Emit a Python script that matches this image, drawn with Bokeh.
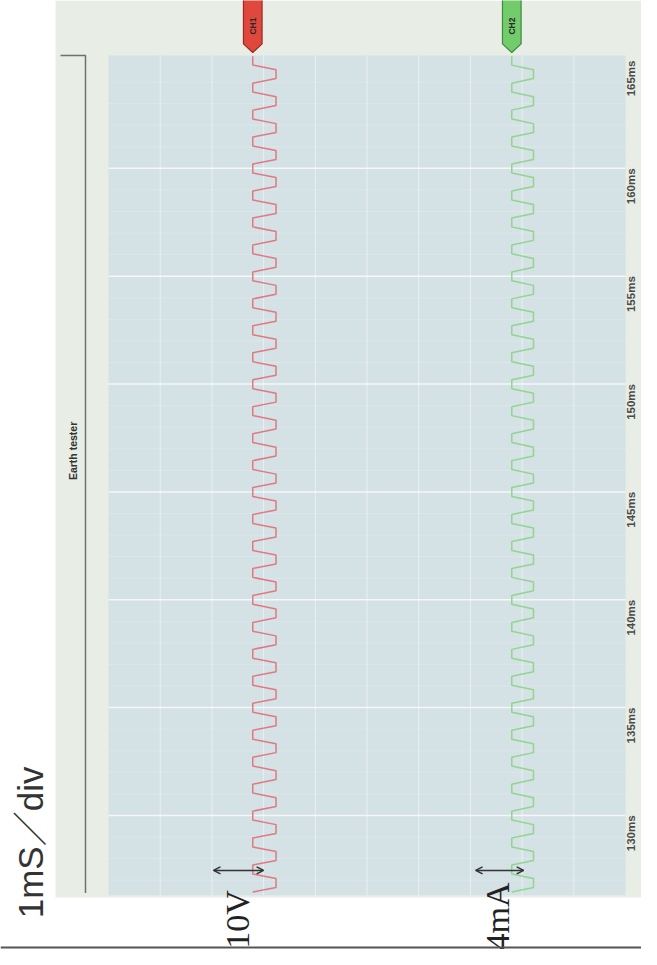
import numpy as np
from bokeh.plotting import figure
from bokeh.models import Range1d, BoxAnnotation, Span, Arrow, OpenHead
from bokeh.embed import file_html
from bokeh.resources import INLINE
from bokeh.core.properties import value

# ---------------- data ----------------
time_ticks = [130, 135, 140, 145, 150, 155, 160, 165]
time_labels = ["130ms", "135ms", "140ms", "145ms", "150ms", "155ms", "160ms", "165ms"]
minor_ticks = [127, 128, 129, 131, 132, 133, 134, 136, 137, 138, 139, 141, 142, 143, 144,
               146, 147, 148, 149, 151, 152, 153, 154, 156, 157, 158, 159, 161, 162, 163, 164]
major_lines = [130, 135, 140, 145, 150, 155, 160]
div_lines = [1, 2, 3, 4, 5, 6, 7, 8, 9]

channels = ["CH1", "CH2"]
ch_low = [2.79, 7.80]          # trace low level (divisions)
ch_pp = [0.45, 0.42]           # trace peak-to-peak (divisions)
ch_colors = ["#e2727c", "#8ed48a"]
marker_fill = ["#e0483e", "#72cc6c"]
marker_line = ["#9a2a24", "#3f8a3c"]

period_ms = 1.25               # one cycle of the test signal (~800 Hz)
trace_start = 126.45
trace_end = 165.37
cycle_phase = [0.0, 0.17, 0.5, 0.67]
cycle_level = [0.0, 1.0, 1.0, 0.0]

scale_labels = ["10V", "4mA"]

# ---------------- layout constants ----------------
X0, X1 = -2.089, 10.309
Y0, Y1 = 123.785, 167.783
plot_bottom, plot_top = 126.3, 165.23
panel_left, panel_bottom = -1.025, 126.2

p = figure(width=641, height=949, x_range=Range1d(X0, X1), y_range=Range1d(Y0, Y1),
           output_backend="svg", toolbar_location=None, min_border=0)
p.xaxis.visible = False
p.yaxis.visible = False
p.xgrid.visible = False
p.ygrid.visible = False
p.outline_line_color = None
p.background_fill_color = "white"
p.border_fill_color = "white"

# panels
p.add_layout(BoxAnnotation(left=panel_left, bottom=panel_bottom, fill_color="#e8ede5",
                           fill_alpha=1, line_color=None, level="underlay"))
p.add_layout(BoxAnnotation(left=0, right=10, bottom=plot_bottom, top=plot_top,
                           fill_color="#d4e1e5", fill_alpha=1, line_color=None, level="underlay"))

# grid
p.segment(x0=div_lines, y0=[plot_bottom] * len(div_lines), x1=div_lines,
          y1=[plot_top] * len(div_lines), line_color="white", line_alpha=0.5, line_width=1)
p.segment(x0=[0] * len(minor_ticks), y0=minor_ticks, x1=[10] * len(minor_ticks),
          y1=minor_ticks, line_color="white", line_alpha=0.2, line_width=1)
p.segment(x0=[0] * len(major_lines), y0=major_lines, x1=[10] * len(major_lines),
          y1=major_lines, line_color="white", line_alpha=0.75, line_width=1.5)

# bracket at left
p.line(x=[-0.928, -0.445, -0.445], y=[plot_top, plot_top, 126.4],
       line_color="#707070", line_width=1.5)
p.text(x=[-0.696], y=[146.9], text=["Earth tester"], angle=np.pi / 2,
       text_align="center", text_baseline="middle", text_font=value("Liberation Sans"),
       text_font_style="bold", text_font_size="10.5px", text_color="#333333")

# time tick labels
p.text(x=[10.1] * len(time_ticks), y=time_ticks, text=time_labels, angle=np.pi / 2,
       text_align="right", text_baseline="middle", text_font=value("Liberation Sans"),
       text_font_style="bold", text_font_size="11.5px", text_color="#4a4a4a")

# traces
for low, pp, col in zip(ch_low, ch_pp, ch_colors):
    ts, vs = [], []
    k = 0
    while True:
        base = trace_start + k * period_ms
        if base > trace_end:
            break
        for ph, lv in zip(cycle_phase, cycle_level):
            t = base + ph * period_ms
            if t <= trace_end:
                ts.append(t)
                vs.append(low + lv * pp)
        k += 1
    p.line(x=vs, y=ts, line_color=col, line_width=1.5, line_alpha=0.95)

# channel markers
tip = trace_end
half_w = 0.18
xs_m, ys_m = [], []
for c in ch_low:
    xs_m.append([c - half_w, c + half_w, c + half_w, c, c - half_w])
    ys_m.append([Y1 + 0.5, Y1 + 0.5, tip + 0.4, tip, tip + 0.4])
p.patches(xs=xs_m, ys=ys_m, fill_color=marker_fill, line_color=marker_line, line_width=1.2)
p.text(x=ch_low, y=[166.6] * 2, text=channels, angle=np.pi / 2, text_align="center",
       text_baseline="middle", text_font=value("Liberation Sans"), text_font_style="bold",
       text_font_size="8.5px", text_color="#2a2a2a")

# scale arrows
for xa, xb in [(2.03, 3.0), (7.10, 8.03)]:
    p.add_layout(Arrow(start=OpenHead(size=7, line_width=1.5, line_color="#333333"),
                       end=OpenHead(size=7, line_width=1.5, line_color="#333333"),
                       x_start=xa, x_end=xb, y_start=127.45, y_end=127.45,
                       line_color="#333333", line_width=1.5))

p.text(x=[2.495, 7.52], y=[125.18, 125.32], text=scale_labels, angle=np.pi / 2,
       text_align="center", text_baseline="middle", text_font=value("Liberation Serif"),
       text_font_size="34px", text_color="#222222")

p.text(x=[-1.51], y=[128.75], text=["1mS／div"], angle=np.pi / 2, text_align="center",
       text_baseline="middle", text_font=value("Liberation Sans, Noto Sans CJK JP"),
       text_font_size="35px", text_color="#333333")

# bottom rule
p.add_layout(Span(location=123.878, dimension="width", line_color="#555555", line_width=2))

open("out.html", "w").write(file_html(p, INLINE))
